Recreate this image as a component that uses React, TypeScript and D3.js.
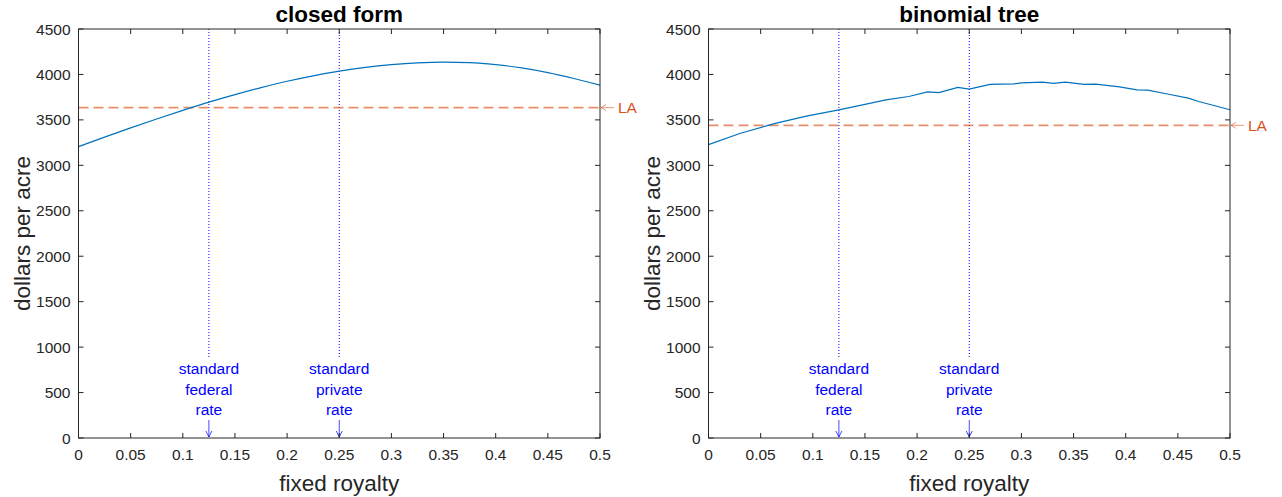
import React from "react";
import * as d3 from "d3";

const xTicks = [0, 0.05, 0.1, 0.15, 0.2, 0.25, 0.3, 0.35, 0.4, 0.45, 0.5];
const yTicks = [0, 500, 1000, 1500, 2000, 2500, 3000, 3500, 4000, 4500];

const closedX = [0, 0.025, 0.05, 0.075, 0.1, 0.125, 0.15, 0.175, 0.2, 0.225, 0.25, 0.275, 0.3, 0.325, 0.35, 0.375, 0.4, 0.425, 0.45, 0.475, 0.5];
const closedY = [3206, 3310, 3412, 3510, 3605, 3695, 3778, 3855, 3925, 3985, 4037, 4078, 4108, 4128, 4136, 4130, 4108, 4072, 4020, 3955, 3882];

const binomX = [0, 0.03, 0.065, 0.095, 0.125, 0.15, 0.17, 0.192, 0.21, 0.221, 0.239, 0.25, 0.27, 0.293, 0.3, 0.32, 0.331, 0.342, 0.36, 0.371, 0.394, 0.411, 0.421, 0.44, 0.46, 0.47, 0.5];
const binomY = [3228, 3350, 3465, 3545, 3610, 3670, 3721, 3757, 3809, 3801, 3857, 3838, 3890, 3897, 3908, 3915, 3901, 3915, 3890, 3893, 3864, 3831, 3827, 3785, 3739, 3702, 3612];

const laClosed = 3635;
const laBinom = 3440;

const rateX = [0.125, 0.25];
const rateLabels = [
  ["standard", "federal", "rate"],
  ["standard", "private", "rate"],
];

const titles = ["closed form", "binomial tree"];

const FONT = "'Liberation Sans', Arial, Helvetica, sans-serif";
const AX = "#262626";
const BLUE_LINE = "#0072BD";
const ORANGE = "#D95319";

const W = 1282;
const H = 497;
const TOP = 29;
const BOTTOM = 438;
const PANEL_LEFT = [78.5, 708.5];
const PANEL_W = 521.5;

function Panel({ idx, xs, ys, la }: { idx: number; xs: number[]; ys: number[]; la: number }) {
  const left = PANEL_LEFT[idx];
  const right = left + PANEL_W;
  const x = d3.scaleLinear().domain([0, 0.5]).range([left, right]);
  const y = d3.scaleLinear().domain([0, 4500]).range([BOTTOM, TOP]);
  const pts: [number, number][] = xs.map((v, i) => [v, ys[i]]);
  const line = d3
    .line<[number, number]>()
    .x((d) => x(d[0]))
    .y((d) => y(d[1]))
    .curve(idx === 0 ? d3.curveMonotoneX : d3.curveLinear);
  const tl = 5;
  const cx = (left + right) / 2;
  return (
    <g>
      <text x={cx} y={22} textAnchor="middle" fontFamily={FONT} fontWeight="bold" fontSize={22.5} fill="#000">
        {titles[idx]}
      </text>
      {rateX.map((r, i) => (
        <g key={"r" + i}>
          <line x1={x(r)} x2={x(r)} y1={TOP} y2={358} stroke="#0000ff" strokeWidth={1} strokeDasharray="1,2" />
          {rateLabels[i].map((t, j) => (
            <text key={j} x={x(r)} y={374 + j * 20.5} textAnchor="middle" fontFamily={FONT} fontSize={15.5} fill="#0000ff">
              {t}
            </text>
          ))}
          <line x1={x(r)} x2={x(r)} y1={420} y2={437} stroke="#0000ff" strokeWidth={0.9} strokeOpacity={0.8} />
          <path d={`M${x(r) - 3},${431} L${x(r)},${437} L${x(r) + 3},${431}`} fill="none" stroke="#0000ff" strokeWidth={0.9} strokeOpacity={0.8} />
        </g>
      ))}
      <line x1={left} x2={right} y1={y(la)} y2={y(la)} stroke={ORANGE} strokeOpacity={0.65} strokeWidth={1.8} strokeDasharray="10,5" />
      <path d={line(pts) || ""} fill="none" stroke={BLUE_LINE} strokeWidth={1.2} />
      <rect x={left} y={TOP} width={PANEL_W} height={BOTTOM - TOP} fill="none" stroke={AX} strokeWidth={1} />
      {xTicks.map((t, i) => (
        <g key={"xt" + i}>
          <line x1={x(t)} x2={x(t)} y1={BOTTOM} y2={BOTTOM - tl} stroke={AX} />
          <line x1={x(t)} x2={x(t)} y1={TOP} y2={TOP + tl} stroke={AX} />
          <text x={x(t)} y={460} textAnchor="middle" fontFamily={FONT} fontSize={15.5} fill={AX}>
            {String(t)}
          </text>
        </g>
      ))}
      {yTicks.map((t, i) => (
        <g key={"yt" + i}>
          <line x1={left} x2={left + tl} y1={y(t)} y2={y(t)} stroke={AX} />
          <line x1={right} x2={right - tl} y1={y(t)} y2={y(t)} stroke={AX} />
          <text x={left - 8} y={y(t) + 5.5} textAnchor="end" fontFamily={FONT} fontSize={15.5} fill={AX}>
            {String(t)}
          </text>
        </g>
      ))}
      <line x1={right + 1} x2={right + 14} y1={y(la)} y2={y(la)} stroke={ORANGE} strokeOpacity={0.6} strokeWidth={1} />
      <path d={`M${right + 6},${y(la) - 3} L${right + 1},${y(la)} L${right + 6},${y(la) + 3}`} fill="none" stroke={ORANGE} strokeOpacity={0.6} strokeWidth={1} />
      <text x={right + 18} y={y(la) + 5.5} fontFamily={FONT} fontSize={15.5} fill={ORANGE}>
        LA
      </text>
      <text x={cx} y={491} textAnchor="middle" fontFamily={FONT} fontSize={22.5} fill={AX}>
        fixed royalty
      </text>
      <text
        transform={`translate(${left - 49},${(TOP + BOTTOM) / 2}) rotate(-90)`}
        textAnchor="middle"
        fontFamily={FONT}
        fontSize={22.5}
        fill={AX}
      >
        dollars per acre
      </text>
    </g>
  );
}

export default function App() {
  return (
    <svg width={W} height={H} style={{ position: "absolute", left: 0, top: 0, background: "#fff" }}>
      <rect x={0} y={0} width={W} height={H} fill="#fff" />
      <Panel idx={0} xs={closedX} ys={closedY} la={laClosed} />
      <Panel idx={1} xs={binomX} ys={binomY} la={laBinom} />
    </svg>
  );
}
